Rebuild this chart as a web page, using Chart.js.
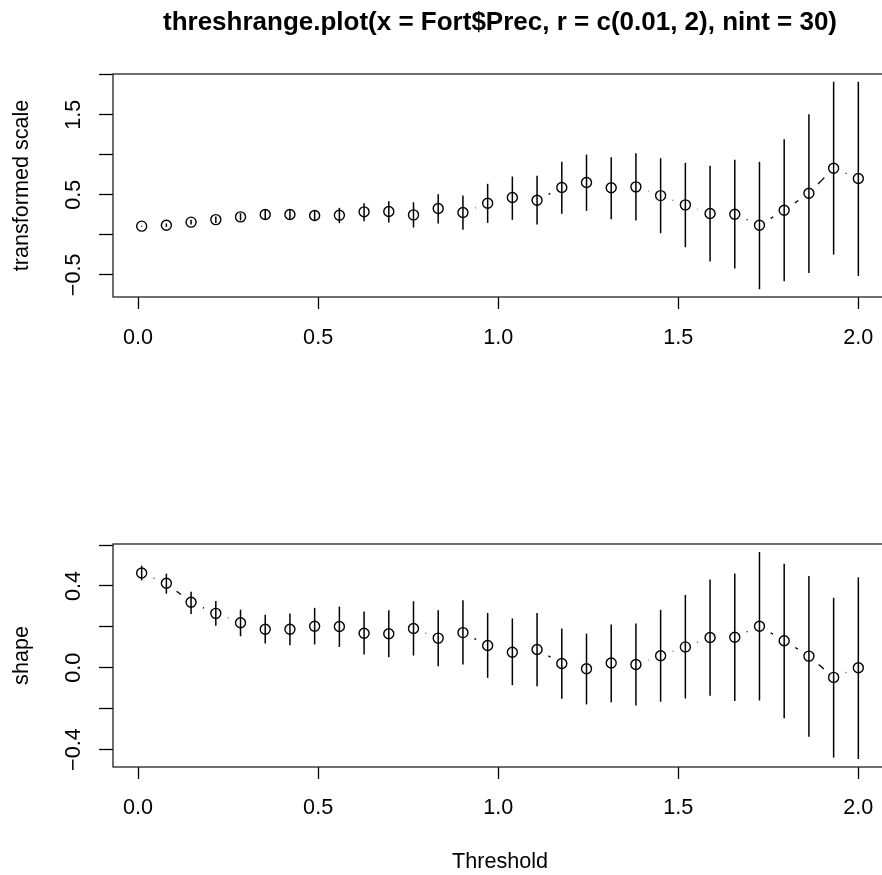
<!DOCTYPE html>
<html>
<head>
<meta charset="utf-8">
<script src="https://cdn.jsdelivr.net/npm/chart.js@4"></script>
<style>
html, body { margin: 0; padding: 0; overflow: hidden; background: #fff; width: 882px; height: 875px; }
canvas { position: absolute; left: 0; }
#top { top: 0; }
#bottom { top: 440px; }
</style>
</head>
<body>
<canvas id="top" width="900" height="440"></canvas>
<canvas id="bottom" width="900" height="435"></canvas>
<script>
// thresholds (30 of them between 0.01 and 2)
const thresholds = [0.01, 0.0786, 0.1472, 0.2159, 0.2845, 0.3531, 0.4217, 0.4903, 0.5590, 0.6276,
    0.6962, 0.7648, 0.8334, 0.9021, 0.9707, 1.0393, 1.1079, 1.1766, 1.2452, 1.3138,
    1.3824, 1.4510, 1.5197, 1.5883, 1.6569, 1.7255, 1.7941, 1.8628, 1.9314, 2.0];

// transformed scale
const scaleEst = [0.109, 0.121, 0.159, 0.191, 0.225, 0.254, 0.254, 0.242, 0.246, 0.288,
    0.292, 0.250, 0.329, 0.279, 0.396, 0.467, 0.433, 0.592, 0.654, 0.588,
    0.600, 0.491, 0.375, 0.267, 0.258, 0.121, 0.308, 0.521, 0.833, 0.704];
const scaleLo = [0.103, 0.100, 0.130, 0.150, 0.180, 0.200, 0.195, 0.171, 0.146, 0.171,
    0.154, 0.092, 0.141, 0.063, 0.150, 0.188, 0.129, 0.263, 0.300, 0.196,
    0.179, 0.021, -0.154, -0.333, -0.421, -0.679, -0.579, -0.475, -0.246, -0.513];
const scaleHi = [0.115, 0.142, 0.190, 0.230, 0.270, 0.310, 0.315, 0.304, 0.338, 0.396,
    0.421, 0.408, 0.508, 0.491, 0.638, 0.729, 0.738, 0.913, 1.004, 0.971,
    1.021, 0.958, 0.900, 0.863, 0.938, 0.913, 1.196, 1.508, 1.913, 1.913];

// shape
const shapeEst = [0.463, 0.413, 0.320, 0.266, 0.220, 0.188, 0.188, 0.203, 0.202, 0.169,
    0.166, 0.192, 0.145, 0.172, 0.109, 0.076, 0.089, 0.021, -0.005, 0.023,
    0.016, 0.059, 0.102, 0.148, 0.149, 0.203, 0.132, 0.057, -0.047, 0.000];
const shapeLo = [0.427, 0.362, 0.263, 0.205, 0.154, 0.119, 0.110, 0.114, 0.102, 0.065,
    0.052, 0.060, 0.008, 0.016, -0.049, -0.085, -0.090, -0.151, -0.179, -0.168,
    -0.184, -0.166, -0.150, -0.137, -0.163, -0.160, -0.247, -0.337, -0.439, -0.446];
const shapeHi = [0.499, 0.460, 0.372, 0.327, 0.284, 0.259, 0.265, 0.293, 0.299, 0.275,
    0.281, 0.325, 0.281, 0.330, 0.268, 0.241, 0.268, 0.192, 0.167, 0.211,
    0.216, 0.283, 0.356, 0.431, 0.461, 0.566, 0.509, 0.449, 0.342, 0.442];

// axis ticks
const xTicks = [0, 0.5, 1, 1.5, 2];
const scaleTicks = [-0.5, 0, 0.5, 1, 1.5, 2];
const scaleTickLabels = [-0.5, 0.5, 1.5];
const shapeTicks = [-0.4, -0.2, 0, 0.2, 0.4, 0.6];
const shapeTickLabels = [-0.4, 0, 0.4];

const FONT = '"Liberation Sans", Arial, Helvetica, sans-serif';
const FS = 21.6;
Chart.defaults.font.family = FONT;
Chart.defaults.color = '#000';

const fmtY = v => (v < 0 ? '\u2212' + Math.abs(v).toFixed(1) : v.toFixed(1));

const rPanel = (cfg) => ({
    id: 'rPanel',
    beforeDatasetsDraw(chart) {
        // dashed connectors between points, with a gap round each circle (type = "b")
        const { ctx, scales: { x, y } } = chart;
        const gap = 12.9;
        ctx.save();
        ctx.strokeStyle = '#000';
        ctx.lineWidth = 1.3;
        ctx.setLineDash([9, 9]);
        for (let i = 0; i < cfg.est.length - 1; i++) {
            const x0 = x.getPixelForValue(thresholds[i]), y0 = y.getPixelForValue(cfg.est[i]);
            const x1 = x.getPixelForValue(thresholds[i + 1]), y1 = y.getPixelForValue(cfg.est[i + 1]);
            const d = Math.hypot(x1 - x0, y1 - y0);
            if (d <= 2 * gap) continue;
            const ux = (x1 - x0) / d, uy = (y1 - y0) / d;
            ctx.beginPath();
            ctx.moveTo(x0 + ux * gap, y0 + uy * gap);
            ctx.lineTo(x1 - ux * gap, y1 - uy * gap);
            ctx.stroke();
        }
        ctx.restore();
    },
    afterDatasetsDraw(chart) {
        const { ctx, chartArea: a, scales: { x, y } } = chart;
        ctx.save();
        // error bars
        ctx.strokeStyle = '#000';
        ctx.lineWidth = 1.5;
        thresholds.forEach((t, i) => {
            const px = x.getPixelForValue(t);
            ctx.beginPath();
            ctx.moveTo(px, y.getPixelForValue(cfg.lo[i]));
            ctx.lineTo(px, y.getPixelForValue(cfg.hi[i]));
            ctx.stroke();
        });
        // box
        ctx.lineWidth = 1.3;
        ctx.strokeStyle = '#222';
        ctx.strokeRect(a.left, a.top, a.right - a.left, a.bottom - a.top);
        // y tick labels, rotated like R
        ctx.fillStyle = '#000';
        ctx.font = FS + 'px ' + FONT;
        ctx.textAlign = 'center';
        ctx.textBaseline = 'middle';
        cfg.yLabels.forEach(v => {
            ctx.save();
            ctx.translate(74, y.getPixelForValue(v));
            ctx.rotate(-Math.PI / 2);
            ctx.fillText(fmtY(v), 0, 0);
            ctx.restore();
        });
        // y title
        ctx.save();
        ctx.translate(22.5, (a.top + a.bottom) / 2);
        ctx.rotate(-Math.PI / 2);
        ctx.fillText(cfg.yTitle, 0, 0);
        ctx.restore();
        // main title / x title
        if (cfg.title) {
            ctx.font = 'bold 26px ' + FONT;
            ctx.fillText(cfg.title, (a.left + a.right) / 2, 23);
        }
        if (cfg.xTitle) {
            ctx.font = FS + 'px ' + FONT;
            ctx.fillText(cfg.xTitle, (a.left + a.right) / 2, 422.5);
        }
        ctx.restore();
    }
});

const makePanel = (canvasId, cfg) => {
    const data = {
        datasets: [{
            data: thresholds.map((t, i) => ({ x: t, y: cfg.est[i] })),
            showLine: false,
            pointStyle: 'circle',
            pointRadius: 5,
            pointHoverRadius: 5,
            pointBorderWidth: 1.4,
            pointBorderColor: '#000',
            pointBackgroundColor: 'rgba(0,0,0,0)'
        }]
    };

    const options = {
        responsive: false,
        animation: false,
        events: [],
        layout: { padding: { left: 0, right: 13, top: cfg.padTop, bottom: cfg.padBottom } },
        plugins: { legend: { display: false }, tooltip: { enabled: false } },
        scales: {
            x: {
                type: 'linear',
                position: 'bottom',
                min: -0.0696,
                max: 2.0796,
                afterBuildTicks: s => { s.ticks = xTicks.map(v => ({ value: v })); },
                afterFit: s => { s.height = 60; },
                ticks: {
                    callback: v => Number(v).toFixed(1),
                    font: { size: FS },
                    color: '#000',
                    padding: 16,
                    maxRotation: 0,
                    autoSkip: false
                },
                grid: { drawOnChartArea: false, drawTicks: true, tickLength: 12, tickColor: '#000', tickWidth: 1.3 },
                border: { display: false }
            },
            y: {
                type: 'linear',
                position: 'left',
                min: cfg.yMin,
                max: cfg.yMax,
                afterBuildTicks: s => { s.ticks = cfg.yTicks.map(v => ({ value: v })); },
                afterFit: s => { s.width = 113; },
                ticks: { display: false },
                grid: { drawOnChartArea: false, drawTicks: true, tickLength: 14, tickColor: '#000', tickWidth: 1.3 },
                border: { display: false }
            }
        }
    };

    return new Chart(document.getElementById(canvasId), {
        type: 'scatter', data, options, plugins: [rPanel(cfg)]
    });
};

makePanel('top', {
    est: scaleEst, lo: scaleLo, hi: scaleHi,
    yMin: -0.776, yMax: 2.01,
    yTicks: scaleTicks, yLabels: scaleTickLabels,
    yTitle: 'transformed scale',
    title: 'threshrange.plot(x = Fort$Prec, r = c(0.01, 2), nint = 30)',
    padTop: 74, padBottom: 83
});

makePanel('bottom', {
    est: shapeEst, lo: shapeLo, hi: shapeHi,
    yMin: -0.485, yMax: 0.605,
    yTicks: shapeTicks, yLabels: shapeTickLabels,
    yTitle: 'shape',
    xTitle: 'Threshold',
    padTop: 104, padBottom: 48
});
</script>
</body>
</html>
